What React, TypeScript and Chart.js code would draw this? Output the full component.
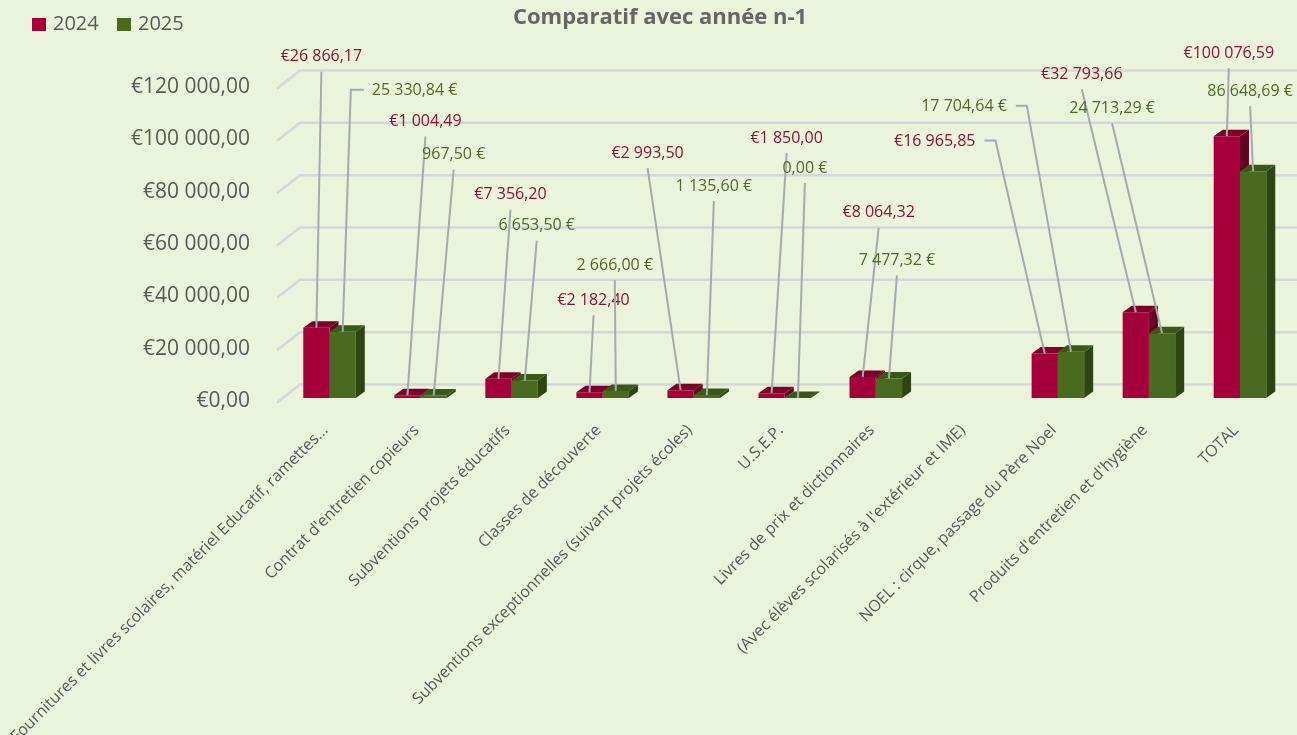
import React, { useEffect, useRef } from "react";
import { Chart, registerables } from "chart.js";

Chart.register(...registerables);

// ---------- DATA ----------
const categories: string[] = [
  "Fournitures et livres scolaires, matériel Educatif, ramettes...",
  "Contrat d'entretien copieurs",
  "Subventions projets éducatifs",
  "Classes de découverte",
  "Subventions exceptionnelles (suivant projets écoles)",
  "U.S.E.P.",
  "Livres de prix et dictionnaires",
  "(Avec élèves scolarisés à l'extérieur et IME)",
  "NOEL : cirque, passage du Père Noel",
  "Produits d'entretien et d'hygiène",
  "TOTAL",
];

const seriesNames: string[] = ["2024", "2025"];

const values2024: (number | null)[] = [
  26866.17, 1004.49, 7356.2, 2182.4, 2993.5, 1850.0, 8064.32, null, 16965.85, 32793.66, 100076.59,
];

const values2025: (number | null)[] = [
  25330.84, 967.5, 6653.5, 2666.0, 1135.6, 0.0, 7477.32, null, 17704.64, 24713.29, 86648.69,
];

const yTicks: number[] = [0, 20000, 40000, 60000, 80000, 100000, 120000];

const chartTitle = "Comparatif avec année n-1";

// ---------- LAYOUT / STYLE (not data) ----------
// label placement relative to the bar top: [dx, dy, elbow] (elbow: 1 = right side, -1 = left side)
const labelPlace2024: [number, number, number][] = [
  [5, -271, 0], [18, -274, 0], [12, -184, 0], [4, -92, 0], [-33, -237, 0], [15, -255, 0],
  [16, -164, 0], [0, 0, 0], [-110, -212, 1], [-54, -238, 0], [2, -83, 0],
];
const labelPlace2025: [number, number, number][] = [
  [72, -241, -1], [20, -241, 0], [12, -155, 0], [-1, -126, 0], [7, -209, 0], [7, -230, 0],
  [8, -118, 0], [0, 0, 0], [-107, -245, 1], [-50, -225, 0], [-3, -80, 0],
];

const BG = "#EAF4DA";
const FRONT = ["#A5003A", "#4A6A20"];
const TOPC = ["#7E0029", "#3C5819"];
const SIDEC = ["#680022", "#2E4412"];
const LABEL_COLORS = ["#8A1437", "#4F6B22"];
const GRID_COLOR = "#D6D6DE";
const LEADER = "#A7A9AE";
const TEXT_GRAY = "#595959";
const FONT = "'Open Sans', 'DejaVu Sans', sans-serif";
const DX = 9;
const DY = 6.5;

function groupNum(v: number): string {
  const [i, d] = Math.abs(v).toFixed(2).split(".");
  const g = i.replace(/\B(?=(\d{3})+(?!\d))/g, " ");
  return g + "," + d;
}
const fmtPrefix = (v: number) => "€" + groupNum(v);
const fmtSuffix = (v: number) => groupNum(v) + " €";

const decorPlugin = {
  id: "decor3d",
  beforeDraw(chart: any) {
    const { ctx, width, height } = chart;
    ctx.save();
    ctx.fillStyle = BG;
    ctx.fillRect(0, 0, width, height);
    ctx.restore();
  },
  beforeDatasetsDraw(chart: any) {
    const { ctx, chartArea } = chart;
    const y = chart.scales.y;
    ctx.save();
    ctx.strokeStyle = GRID_COLOR;
    ctx.lineWidth = 2.5;
    for (const v of yTicks) {
      const py = y.getPixelForValue(v);
      ctx.beginPath();
      ctx.moveTo(chartArea.left - 7, py + 4.5);
      ctx.lineTo(chartArea.left + 16, py - 13.5);
      ctx.lineTo(chart.width, py - 13.5);
      ctx.stroke();
    }
    chart.data.datasets.forEach((ds: any, di: number) => {
      const meta = chart.getDatasetMeta(di);
      meta.data.forEach((el: any, j: number) => {
        const v = ds.data[j];
        if (v === null || v === undefined) return;
        const top = el.y;
        const base = el.base;
        const x0 = el.x - el.width / 2;
        const x1 = el.x + el.width / 2;
        ctx.fillStyle = SIDEC[di];
        ctx.beginPath();
        ctx.moveTo(x1, top);
        ctx.lineTo(x1 + DX, top - DY);
        ctx.lineTo(x1 + DX, base - DY);
        ctx.lineTo(x1, base);
        ctx.closePath();
        ctx.fill();
        ctx.fillStyle = TOPC[di];
        ctx.beginPath();
        ctx.moveTo(x0, top);
        ctx.lineTo(x1, top);
        ctx.lineTo(x1 + DX, top - DY);
        ctx.lineTo(x0 + DX, top - DY);
        ctx.closePath();
        ctx.fill();
      });
    });
    ctx.restore();
  },
  afterDatasetsDraw(chart: any) {
    const { ctx } = chart;
    ctx.save();
    const places = [labelPlace2024, labelPlace2025];
    const fmts = [fmtPrefix, fmtSuffix];
    ctx.font = `16px ${FONT}`;
    ctx.textAlign = "center";
    ctx.textBaseline = "middle";
    chart.data.datasets.forEach((ds: any, di: number) => {
      const meta = chart.getDatasetMeta(di);
      meta.data.forEach((el: any, j: number) => {
        const v = ds.data[j];
        if (v === null || v === undefined) return;
        const [dx, dy, elbow] = places[di][j];
        const bx = el.x;
        const by = el.y;
        const lx = bx + dx;
        const ly = by + dy;
        const txt = fmts[di](v);
        const w = ctx.measureText(txt).width;
        ctx.strokeStyle = LEADER;
        ctx.lineWidth = 2;
        ctx.beginPath();
        if (elbow === 1) {
          const sx = lx + w / 2 + 9;
          ctx.moveTo(sx, ly - 1);
          ctx.lineTo(sx + 11, ly - 1);
          ctx.lineTo(bx, by);
        } else if (elbow === -1) {
          const sx = lx - w / 2 - 8;
          ctx.moveTo(sx, ly - 1);
          ctx.lineTo(sx - 13, ly - 1);
          ctx.lineTo(bx, by);
        } else {
          ctx.moveTo(lx, ly + 15);
          ctx.lineTo(bx, by);
        }
        ctx.stroke();
        ctx.fillStyle = LABEL_COLORS[di];
        ctx.fillText(txt, lx, ly);
      });
    });

    // title
    ctx.font = `bold 22px ${FONT}`;
    ctx.fillStyle = "#666666";
    ctx.textAlign = "center";
    ctx.fillText(chartTitle, 660, 18);

    // legend
    ctx.font = `20px ${FONT}`;
    ctx.textAlign = "left";
    const legendX = [32, 117];
    seriesNames.forEach((name, i) => {
      ctx.fillStyle = FRONT[i];
      ctx.fillRect(legendX[i], 18, 14, 13);
      ctx.fillStyle = TEXT_GRAY;
      ctx.fillText(name, legendX[i] + 21, 24.5);
    });
    ctx.restore();
  },
};

export default function App() {
  const ref = useRef<HTMLCanvasElement | null>(null);

  useEffect(() => {
    if (!ref.current) return;
    const chart = new Chart(ref.current, {
      type: "bar",
      data: {
        labels: categories,
        datasets: [
          { label: seriesNames[0], data: values2024 as any, backgroundColor: FRONT[0], borderWidth: 0 },
          { label: seriesNames[1], data: values2025 as any, backgroundColor: FRONT[1], borderWidth: 0 },
        ],
      },
      options: {
        responsive: false,
        animation: false,
        events: [],
        layout: { padding: { top: 84, right: 11.5, bottom: 0, left: 0 } },
        datasets: { bar: { categoryPercentage: 0.577, barPercentage: 1.0 } },
        plugins: {
          legend: { display: false },
          title: { display: false },
          tooltip: { enabled: false },
        },
        scales: {
          x: {
            grid: { display: false, drawTicks: false },
            border: { display: false },
            ticks: {
              autoSkip: false,
              maxRotation: 45,
              minRotation: 45,
              padding: 23,
              labelOffset: -4,
              color: TEXT_GRAY,
              font: { family: FONT, size: 16 },
            },
            afterFit: (s: any) => {
              s.height = 337;
              s.paddingLeft = 0;
              s.paddingRight = 0;
            },
          },
          y: {
            min: 0,
            max: 120000,
            grid: { display: false, drawTicks: false },
            border: { display: false },
            ticks: {
              stepSize: 20000,
              padding: 34,
              labelOffset: 3,
              color: TEXT_GRAY,
              font: { family: FONT, size: 21 },
              callback: (v: any) => fmtPrefix(Number(v)),
            },
            afterFit: (s: any) => {
              s.width = 284;
            },
          },
        },
      },
      plugins: [decorPlugin],
    });
    return () => chart.destroy();
  }, []);

  return (
    <div style={{ position: "fixed", left: 0, top: 0, width: 1297, height: 735, background: BG }}>
      <canvas ref={ref} width={1297} height={735} style={{ display: "block" }} />
    </div>
  );
}
